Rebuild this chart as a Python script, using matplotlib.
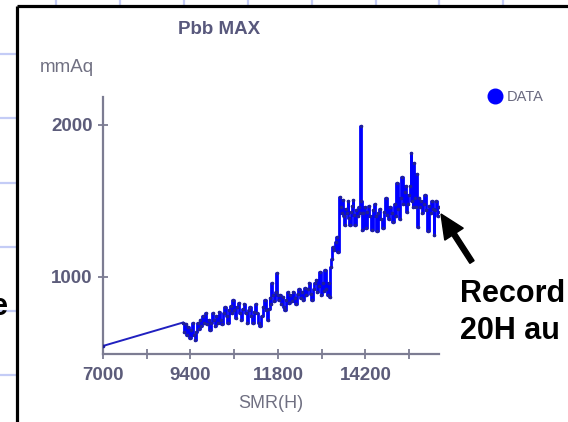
import matplotlib
matplotlib.use('Agg')
import matplotlib.pyplot as plt
from matplotlib.lines import Line2D
from matplotlib.patches import FancyArrow

# SMR(H) readings and Pbb MAX (mmAq)
smr_low = [7000, 9194, 9230, 9270, 9300, 9340, 9386, 9420, 9460, 9500, 9524,
           9560, 9600, 9640, 9661, 9700, 9740, 9780, 9820, 9860, 9900, 9935,
           9970, 10010, 10050, 10072, 10110, 10150, 10190, 10230, 10270, 10310,
           10346, 10390, 10430, 10470, 10510, 10540, 10566, 10600, 10640, 10680,
           10720, 10760, 10800, 10840, 10880, 10920, 10960, 11000, 11032, 11070,
           11110, 11150, 11190, 11230, 11270, 11310, 11361, 11400, 11440, 11480,
           11520, 11560, 11581, 11610, 11636, 11660, 11700, 11740, 11773, 11800,
           11830, 11855]
pbb_low = [546, 700, 640, 690, 620, 670, 600, 650, 700, 620, 586,
           640, 700, 660, 720, 680, 740, 700, 760, 690, 720, 650,
           700, 760, 720, 680, 740, 700, 770, 720, 690, 760,
           800, 740, 700, 780, 810, 760, 850, 780, 730, 800,
           830, 760, 720, 790, 820, 760, 700, 780, 800, 740,
           700, 770, 820, 760, 700, 680, 740, 800, 850, 780,
           720, 790, 860, 820, 960, 880, 840, 900, 1026, 880,
           850, 880]

smr_mid = [11890, 11930, 11960, 11992, 12030, 12070, 12100, 12140, 12180, 12220,
           12260, 12300, 12340, 12380, 12420, 12460, 12500, 12540, 12580, 12620,
           12660, 12700, 12740, 12780, 12820, 12843, 12880, 12920, 12952, 12990,
           13030, 13060, 13090, 13130, 13170, 13200, 13227, 13254, 13280, 13309,
           13350, 13392, 13420, 13446, 13501, 13529]
pbb_mid = [820, 870, 800, 783, 850, 900, 830, 880, 840, 900,
           860, 820, 890, 920, 860, 900, 850, 930, 880, 920,
           960, 890, 850, 920, 960, 980, 900, 940, 1033, 880,
           960, 910, 1046, 920, 880, 960, 870, 1066, 1120, 1200,
           1180, 1230, 1260, 1164, 1526, 1460]

smr_high = [13560, 13583, 13610, 13638, 13670, 13700, 13720, 13750, 13775, 13810,
            13840, 13857, 13890, 13912, 13950, 13990, 14020, 14050, 14077, 14090,
            14104, 14140, 14180, 14214, 14250, 14290, 14330, 14379, 14420, 14460,
            14490, 14516, 14550, 14590, 14630, 14680, 14720, 14763, 14800, 14840,
            14880, 14920, 14960, 15010, 15040, 15064, 15100, 15140, 15170, 15202,
            15240, 15280, 15311, 15340, 15366, 15400, 15430, 15448, 15480, 15510,
            15530, 15560, 15590, 15613, 15641, 15670, 15695, 15730, 15760, 15800,
            15840, 15870, 15915, 15950, 15990, 16030, 16060, 16079, 16110, 16150,
            16190, 16220, 16244]
pbb_high = [1420, 1506, 1400, 1342, 1450, 1420, 1500, 1390, 1342, 1430,
            1470, 1506, 1410, 1342, 1440, 1400, 1460, 1420, 1993, 1500,
            1309, 1420, 1460, 1320, 1430, 1470, 1400, 1310, 1440, 1480,
            1400, 1300, 1420, 1450, 1380, 1320, 1430, 1520, 1410, 1380,
            1460, 1420, 1360, 1480, 1400, 1620, 1450, 1380, 1520, 1660,
            1480, 1560, 1600, 1430, 1480, 1540, 1600, 1816, 1500, 1460,
            1750, 1520, 1460, 1680, 1330, 1520, 1460, 1500, 1420, 1480,
            1540, 1440, 1300, 1470, 1420, 1500, 1450, 1276, 1440, 1500,
            1400, 1460, 1428]

smr = smr_low + smr_mid + smr_high
pbb = pbb_low + pbb_mid + pbb_high

x_ticks = [7000, 8200, 9400, 10600, 11800, 13000, 14200, 15400]
x_labels = ['7000', '', '9400', '', '11800', '', '14200', '']
y_ticks = [1000, 2000]

W, H = 568, 422
grey = '#7c7c92'
label_col = '#5c5c7a'
plt.rcParams['font.family'] = ['Liberation Sans', 'DejaVu Sans']

fig = plt.figure(figsize=(W / 100, H / 100), dpi=100)
fig.patch.set_facecolor('white')

ax = fig.add_axes([103 / W, 1 - 354 / H, (439 - 103) / W, (354 - 97) / H])
ax.set_facecolor('none')
# first leg is a straight gap line, the rest is drawn as steps
ax.plot(smr[:2], pbb[:2], color='#2020c0', lw=1.4, zorder=3)
ax.plot(smr[1:], pbb[1:], color='#0000ff', lw=2.0, drawstyle='steps-mid',
        zorder=3)
ax.plot(smr, pbb, ls='none', marker='o', ms=1.6, mfc='#20209a',
        mec='#20209a', zorder=4)
ax.set_xlim(7000, 16220)
ax.set_ylim(493, 2184)
ax.set_xticks(x_ticks)
ax.set_xticklabels(x_labels)
ax.set_yticks(y_ticks)
for s in ['top', 'right']:
    ax.spines[s].set_visible(False)
for s in ['left', 'bottom']:
    ax.spines[s].set_color(grey)
    ax.spines[s].set_linewidth(1.6)
ax.tick_params(direction='inout', length=7, width=1.3, color=grey,
               labelcolor=label_col, labelsize=13.5)
ax.tick_params(axis='x', pad=5.5)
ax.tick_params(axis='y', pad=4)
for t in ax.get_xticklabels() + ax.get_yticklabels():
    t.set_fontweight('bold')

ax.legend(handles=[Line2D([], [], marker='o', ls='none', color='#0000ff',
                          ms=10.5, label='DATA')],
          loc='center left', bbox_to_anchor=(488 / W, 1 - 97 / H),
          bbox_transform=fig.transFigure, frameon=False, borderpad=0,
          borderaxespad=0, handlelength=1.0, handletextpad=0.3,
          labelcolor='#6a6a80', prop={'size': 10.5})

# overlay in pixel coordinates for the slide around the chart
ov = fig.add_axes([0, 0, 1, 1], zorder=5)
ov.set_xlim(0, W)
ov.set_ylim(H, 0)
ov.axis('off')
ov.patch.set_alpha(0)

for gx in [56, 120, 184, 248, 312, 376, 439, 503]:
    ov.plot([gx, gx], [0, 5], color='#c4ccf6', lw=1.6)
for gy in [54, 118, 183, 247, 311, 375]:
    ov.plot([0, 16], [gy, gy], color='#c4ccf6', lw=1.6)
ov.plot([16.5, 16.5], [5.5, H], color='black', lw=2.3, solid_capstyle='butt')
ov.plot([16.5, W], [5.5, 5.5], color='black', lw=2.3, solid_capstyle='butt')

ov.text(219, 30, 'Pbb MAX', ha='center', va='center', fontsize=13.5,
        fontweight='bold', color='#58587c')
ov.text(40, 68, 'mmAq', ha='left', va='center', fontsize=13.5, color='#707082')
ov.text(271, 404, 'SMR(H)', ha='center', va='center', fontsize=13,
        color='#707082')

ov.text(460, 302, 'Record', ha='left', va='baseline', fontsize=22,
        fontweight='bold', color='black')
ov.text(460, 339, '20H au', ha='left', va='baseline', fontsize=22,
        fontweight='bold', color='black')
ov.text(8, 315, 'e', ha='right', va='baseline', fontsize=22,
        fontweight='bold', color='black')
ov.add_patch(FancyArrow(472, 262, -31, -48, width=5, head_width=22,
                        head_length=24, length_includes_head=True,
                        color='black'))

fig.savefig('out.png', dpi=100)
